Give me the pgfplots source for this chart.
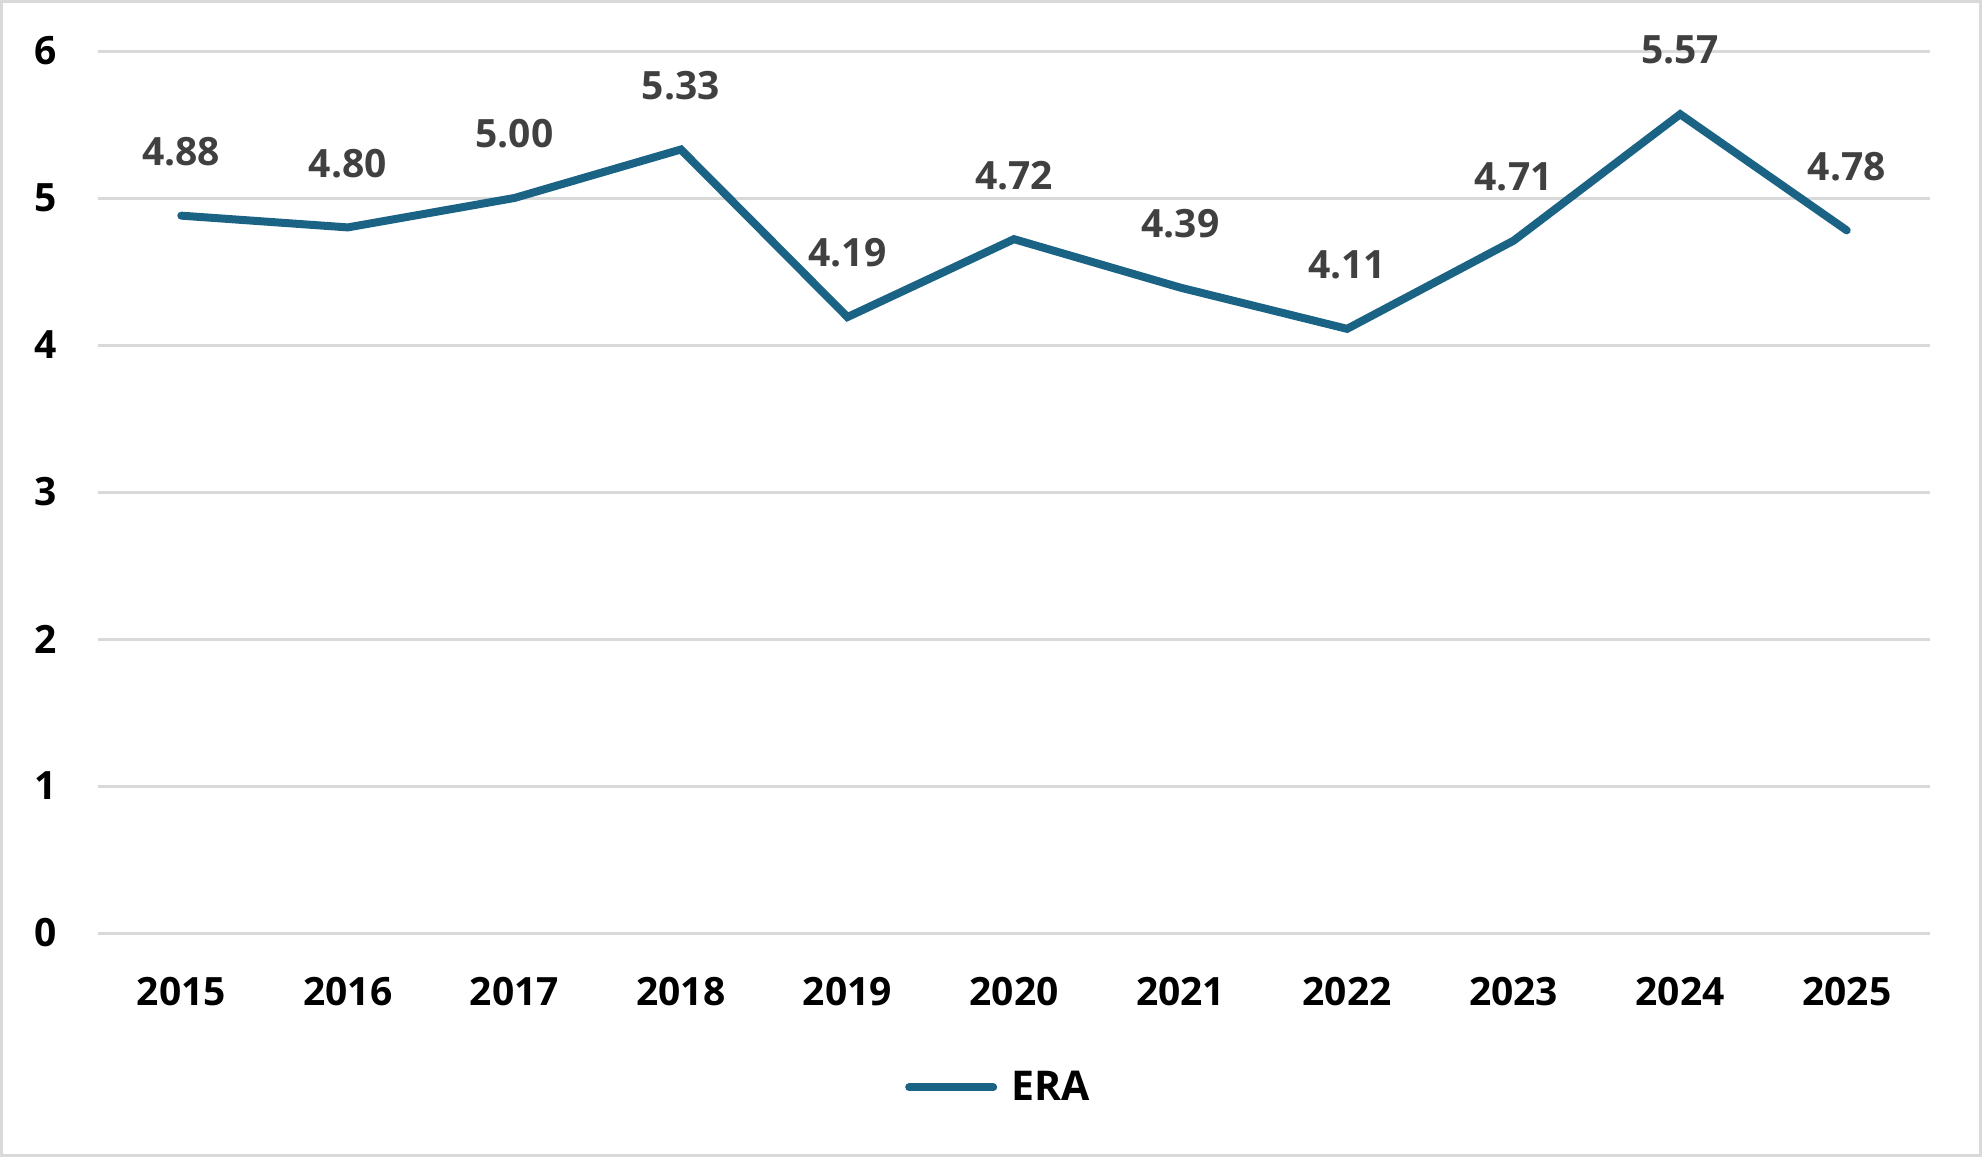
\documentclass[border=0pt]{standalone}
\usepackage{fontspec}
\setmainfont{Open Sans}
\usepackage{pgfplots}
\pgfplotsset{compat=1.18}
\definecolor{eraline}{RGB}{27,99,133}
\definecolor{gridgray}{RGB}{217,217,217}
\definecolor{labelgray}{RGB}{64,64,64}
\begin{document}
\begin{tikzpicture}
\begin{axis}[
    at={(0pt,0pt)}, anchor=south west,
    scale only axis,
    width=916pt, height=441pt,
    xmin=-0.5, xmax=10.5,
    ymin=0, ymax=6,
    xtick={0,...,10},
    xticklabels={2015,2016,2017,2018,2019,2020,2021,2022,2023,2024,2025},
    ytick={0,1,2,3,4,5,6},
    axis line style={draw=none},
    major tick length=0pt,
    ymajorgrids=true,
    grid style={gridgray, line width=1.5pt},
    tick label style={font=\fontsize{19.5}{22}\selectfont\bfseries, text=black},
    /pgf/number format/assume math mode=true,
    xticklabel style={anchor=center, yshift=-29.5pt},
    yticklabel style={anchor=east, xshift=-17pt},
    clip=false,
    legend style={at={(0.492,-0.175)}, anchor=center, draw=none, fill=none,
        font=\fontsize{20.5}{24}\selectfont\bfseries, legend cell align=left},
    legend image code/.code={\draw[#1, line cap=round] (0pt,0pt) -- (42pt,0pt);
        \path (47pt,0pt);},
]
\addplot[color=eraline, line width=4pt, line cap=round, line join=miter,
    nodes near coords,
    every node near coord/.append style={anchor=center, yshift=32pt,
        font=\fontsize{19.5}{22}\selectfont\bfseries, text=labelgray},
    point meta=explicit symbolic]
  coordinates {
    (0, 4.88) [4.88]
    (1, 4.80) [4.80]
    (2, 5.00) [5.00]
    (3, 5.33) [5.33]
    (4, 4.19) [4.19]
    (5, 4.72) [4.72]
    (6, 4.39) [4.39]
    (7, 4.11) [4.11]
    (8, 4.71) [4.71]
    (9, 5.57) [5.57]
    (10, 4.78) [4.78]
};
\addlegendentry{ERA}
\end{axis}
\pgfresetboundingbox
\path[use as bounding box] (-49pt,-112pt) rectangle (942pt,466.5pt);
\draw[gridgray, line width=1.5pt] (-48.25pt,-111.25pt) rectangle (941.25pt,465.75pt);
\end{tikzpicture}
\end{document}
